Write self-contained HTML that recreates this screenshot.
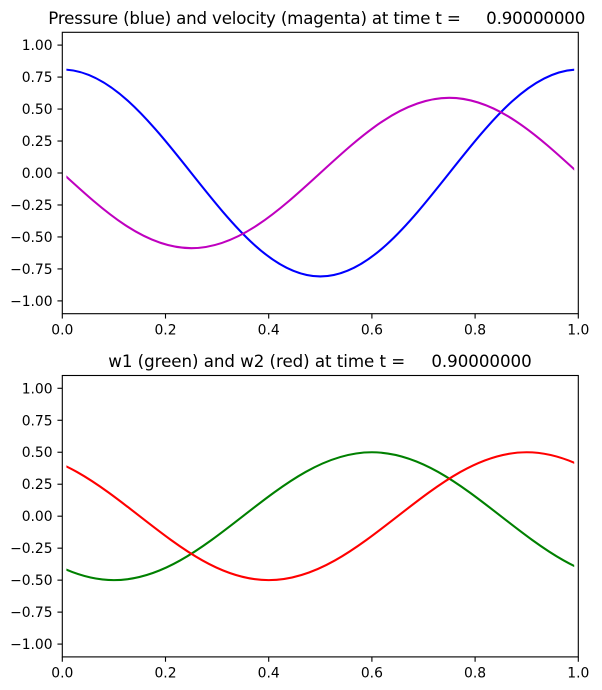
<!DOCTYPE html>
<html>
<head>
<meta charset="utf-8">
<style>
html,body{margin:0;padding:0;background:#fff;}
svg{display:block;}
text{font-family:"DejaVu Sans","Liberation Sans",sans-serif;fill:#000;white-space:pre;}
.t{font-size:16.67px;}
.k{font-size:13.89px;}
</style>
</head>
<body>
<svg width="602" height="690" viewBox="0 0 602 690" xmlns="http://www.w3.org/2000/svg">
<defs>
<clipPath id="c1"><rect x="66.4" y="32.3" width="507.8" height="281.4"/></clipPath>
<clipPath id="c2"><rect x="66.4" y="375.5" width="507.8" height="281.4"/></clipPath>
</defs>
<rect width="602" height="690" fill="#fff"/>

<!-- TOP PLOT -->
<text class="t" x="48.3" y="24" textLength="537" lengthAdjust="spacing" xml:space="preserve">Pressure (blue) and velocity (magenta) at time t =     0.90000000</text>
<g clip-path="url(#c1)" fill="none" stroke-width="2.08" stroke-linejoin="round">
<path stroke="#0000ff" d="M62.3,69.53 C108.99,69.53 149.23,119.99 191.3,173 C233.37,226.01 273.61,276.47 320.3,276.47 C366.99,276.47 407.23,226.01 449.3,173 C491.37,119.99 531.61,69.53 578.3,69.53"/>
<path stroke="#bf00bf" d="M62.3,173 C104.37,211.51 144.61,248.18 191.3,248.18 C237.99,248.18 278.23,211.51 320.3,173 C362.37,134.49 402.61,97.82 449.3,97.82 C495.99,97.82 536.23,134.49 578.3,173"/>
</g>
<rect x="62.3" y="32.3" width="516" height="281.4" fill="none" stroke="#000" stroke-width="1.11"/>
<g stroke="#000" stroke-width="1.11">
<line x1="57.44" x2="62.3" y1="45.1" y2="45.1"/>
<line x1="57.44" x2="62.3" y1="77.08" y2="77.08"/>
<line x1="57.44" x2="62.3" y1="109.05" y2="109.05"/>
<line x1="57.44" x2="62.3" y1="141.03" y2="141.03"/>
<line x1="57.44" x2="62.3" y1="173" y2="173"/>
<line x1="57.44" x2="62.3" y1="204.98" y2="204.98"/>
<line x1="57.44" x2="62.3" y1="236.95" y2="236.95"/>
<line x1="57.44" x2="62.3" y1="268.93" y2="268.93"/>
<line x1="57.44" x2="62.3" y1="300.9" y2="300.9"/>
<line x1="62.3" x2="62.3" y1="313.7" y2="318.56"/>
<line x1="165.5" x2="165.5" y1="313.7" y2="318.56"/>
<line x1="268.7" x2="268.7" y1="313.7" y2="318.56"/>
<line x1="371.9" x2="371.9" y1="313.7" y2="318.56"/>
<line x1="475.1" x2="475.1" y1="313.7" y2="318.56"/>
<line x1="578.3" x2="578.3" y1="313.7" y2="318.56"/>
</g>
<g text-anchor="end">
<text class="k" x="52.6" y="50.1">1.00</text>
<text class="k" x="52.6" y="82.08">0.75</text>
<text class="k" x="52.6" y="114.05">0.50</text>
<text class="k" x="52.6" y="146.03">0.25</text>
<text class="k" x="52.6" y="178">0.00</text>
<text class="k" x="52.6" y="209.98">−0.25</text>
<text class="k" x="52.6" y="241.95">−0.50</text>
<text class="k" x="52.6" y="273.93">−0.75</text>
<text class="k" x="52.6" y="305.9">−1.00</text>
</g>
<g text-anchor="middle">
<text class="k" x="62.3" y="334.7">0.0</text>
<text class="k" x="165.5" y="334.7">0.2</text>
<text class="k" x="268.7" y="334.7">0.4</text>
<text class="k" x="371.9" y="334.7">0.6</text>
<text class="k" x="475.1" y="334.7">0.8</text>
<text class="k" x="578.3" y="334.7">1.0</text>
</g>

<!-- BOTTOM PLOT -->
<text class="t" x="108.3" y="367.2" textLength="423.4" lengthAdjust="spacing" xml:space="preserve">w1 (green) and w2 (red) at time t =     0.90000000</text>
<g clip-path="url(#c2)" fill="none" stroke-width="2.08" stroke-linejoin="round">
<path stroke="#008000" d="M-15.1,516.19 C26.97,548.95 67.21,580.14 113.9,580.14 C160.59,580.14 200.83,548.95 242.9,516.19 C284.97,483.43 325.21,452.24 371.9,452.24 C418.59,452.24 458.83,483.43 500.9,516.19 C542.97,548.95 583.21,580.14 629.9,580.14"/>
<path stroke="#ff0000" d="M10.7,452.24 C57.39,452.24 97.63,483.43 139.7,516.19 C181.77,548.95 222.01,580.14 268.7,580.14 C315.39,580.14 355.63,548.95 397.7,516.19 C439.77,483.43 480.01,452.24 526.7,452.24 C573.39,452.24 613.63,483.43 655.7,516.19"/>
</g>
<rect x="62.3" y="375.5" width="516" height="281.4" fill="none" stroke="#000" stroke-width="1.11"/>
<g stroke="#000" stroke-width="1.11">
<line x1="57.44" x2="62.3" y1="388.29" y2="388.29"/>
<line x1="57.44" x2="62.3" y1="420.27" y2="420.27"/>
<line x1="57.44" x2="62.3" y1="452.24" y2="452.24"/>
<line x1="57.44" x2="62.3" y1="484.22" y2="484.22"/>
<line x1="57.44" x2="62.3" y1="516.19" y2="516.19"/>
<line x1="57.44" x2="62.3" y1="548.17" y2="548.17"/>
<line x1="57.44" x2="62.3" y1="580.14" y2="580.14"/>
<line x1="57.44" x2="62.3" y1="612.12" y2="612.12"/>
<line x1="57.44" x2="62.3" y1="644.09" y2="644.09"/>
<line x1="62.3" x2="62.3" y1="656.9" y2="661.76"/>
<line x1="165.5" x2="165.5" y1="656.9" y2="661.76"/>
<line x1="268.7" x2="268.7" y1="656.9" y2="661.76"/>
<line x1="371.9" x2="371.9" y1="656.9" y2="661.76"/>
<line x1="475.1" x2="475.1" y1="656.9" y2="661.76"/>
<line x1="578.3" x2="578.3" y1="656.9" y2="661.76"/>
</g>
<g text-anchor="end">
<text class="k" x="52.6" y="393.29">1.00</text>
<text class="k" x="52.6" y="425.27">0.75</text>
<text class="k" x="52.6" y="457.24">0.50</text>
<text class="k" x="52.6" y="489.22">0.25</text>
<text class="k" x="52.6" y="521.19">0.00</text>
<text class="k" x="52.6" y="553.17">−0.25</text>
<text class="k" x="52.6" y="585.14">−0.50</text>
<text class="k" x="52.6" y="617.12">−0.75</text>
<text class="k" x="52.6" y="649.09">−1.00</text>
</g>
<g text-anchor="middle">
<text class="k" x="62.3" y="677.5">0.0</text>
<text class="k" x="165.5" y="677.5">0.2</text>
<text class="k" x="268.7" y="677.5">0.4</text>
<text class="k" x="371.9" y="677.5">0.6</text>
<text class="k" x="475.1" y="677.5">0.8</text>
<text class="k" x="578.3" y="677.5">1.0</text>
</g>
</svg>
</body>
</html>
